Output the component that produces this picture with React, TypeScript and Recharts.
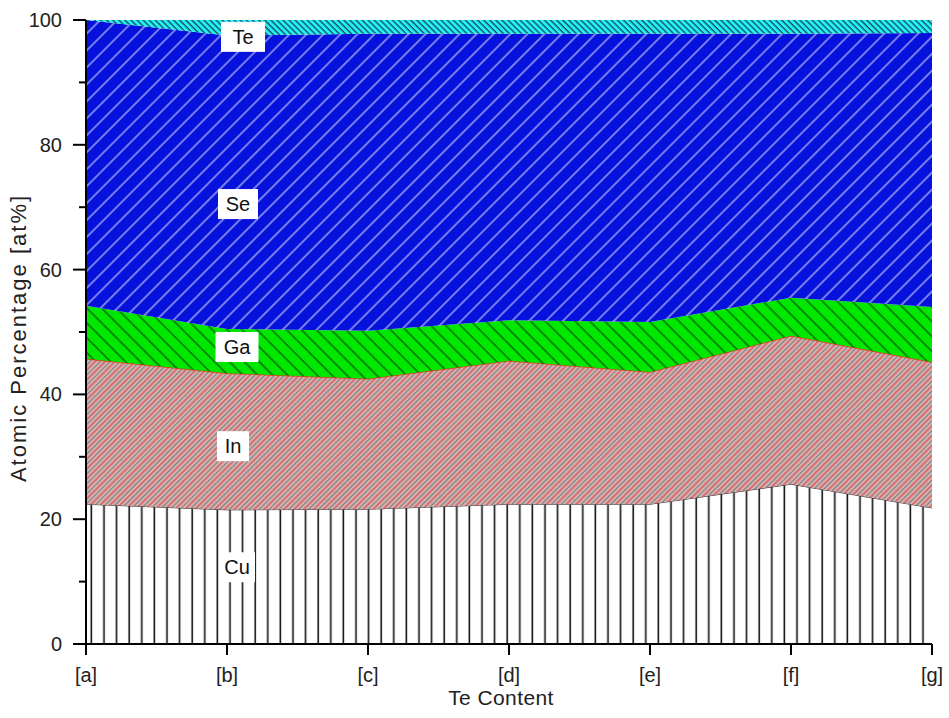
import React from 'react';
import { AreaChart, Area, XAxis, YAxis, ReferenceDot, Label } from 'recharts';

const categories = ['[a]', '[b]', '[c]', '[d]', '[e]', '[f]', '[g]'];
const cuValues = [22.4, 21.5, 21.6, 22.4, 22.4, 25.6, 21.8];
const inValues = [23.3, 21.9, 20.9, 23.0, 21.2, 23.8, 23.4];
const gaValues = [8.5, 7.1, 7.7, 6.5, 8.0, 6.1, 8.8];
const seValues = [45.8, 47.0, 47.6, 45.9, 46.2, 42.3, 43.9];
const teValues = [0.0, 2.5, 2.2, 2.2, 2.2, 2.2, 2.1];

const seriesNames = ['Cu', 'In', 'Ga', 'Se', 'Te'];
const labelCategory = '[b]';
const labelValues = [12.3, 31.7, 47.6, 70.5, 97.3];
const yTicks = [0, 10, 20, 30, 40, 50, 60, 70, 80, 90, 100];
const yMajorTicks = [0, 20, 40, 60, 80, 100];

const xTitle = 'Te Content';
const yTitle = 'Atomic Percentage [at%]';

const data = categories.map((c, i) => ({
  cat: c,
  Cu: cuValues[i],
  In: inValues[i],
  Ga: gaValues[i],
  Se: seValues[i],
  Te: teValues[i],
}));

const FONT = '"Liberation Sans", Arial, sans-serif';
const labelDx = [10, 6, 10, 11, 16];
const labelBoxW = [36, 32, 43, 40, 44];

const YTick = (props: any) => {
  const { x, y, payload } = props;
  const major = yMajorTicks.includes(payload.value);
  return (
    <g>
      <line x1={x - (major ? 13 : 7)} x2={x} y1={y} y2={y} stroke="#000" strokeWidth={2} />
      {major && (
        <text x={x - 24} y={y + 7} textAnchor="end" fontSize={20} fontFamily={FONT} fill="#222">
          {payload.value}
        </text>
      )}
    </g>
  );
};

const XTick = (props: any) => {
  const { x, y, payload } = props;
  return (
    <g>
      <line x1={x} x2={x} y1={y} y2={y + 11} stroke="#000" strokeWidth={2} />
      <text x={x} y={y + 38} textAnchor="middle" fontSize={20} fontFamily={FONT} fill="#222">
        {payload.value}
      </text>
    </g>
  );
};

const Tag = ({ cx, cy, text, dx, w }: any) => (
  <g>
    <rect x={cx + dx - w / 2} y={cy - 15} width={w} height={30} fill="#fff" />
    <text x={cx + dx} y={cy + 7} textAnchor="middle" fontSize={20} fontFamily={FONT} fill="#111">
      {text}
    </text>
  </g>
);

export default function App() {
  return (
    <div style={{ position: 'absolute', left: 0, top: 0, background: '#fff' }}>
      <AreaChart width={949} height={718} data={data} margin={{ top: 20, right: 17, left: 0, bottom: 0 }}>
        <defs>
          <pattern id="pCu" patternUnits="userSpaceOnUse" width="12.6" height="10">
            <rect width="12.6" height="10" fill="#ffffff" />
            <line x1="3.2" y1="0" x2="3.2" y2="10" stroke="#111" strokeWidth="1.6" />
          </pattern>
          <pattern id="pIn" patternUnits="userSpaceOnUse" width="7" height="10" patternTransform="rotate(45)">
            <rect width="7" height="10" fill="#d2b6b6" />
            <line x1="1" y1="0" x2="1" y2="10" stroke="#e03c3c" strokeWidth="1.2" />
            <line x1="4.5" y1="0" x2="4.5" y2="10" stroke="#857a7a" strokeWidth="1.2" />
          </pattern>
          <pattern id="pGa" patternUnits="userSpaceOnUse" width="10.5" height="10" patternTransform="rotate(-45)">
            <rect width="10.5" height="10" fill="#00e800" />
            <line x1="1" y1="0" x2="1" y2="10" stroke="#063006" strokeWidth="1" />
          </pattern>
          <pattern id="pSe" patternUnits="userSpaceOnUse" width="12" height="10" patternTransform="rotate(45)">
            <rect width="12" height="10" fill="#0612dc" />
            <line x1="1" y1="0" x2="1" y2="10" stroke="#d4d4ff" strokeWidth="1.1" />
          </pattern>
          <pattern id="pTe" patternUnits="userSpaceOnUse" width="4.3" height="10" patternTransform="rotate(-45)">
            <rect width="4.3" height="10" fill="#22f2f2" />
            <line x1="1" y1="0" x2="1" y2="10" stroke="#113" strokeWidth="1" />
          </pattern>
        </defs>
        <XAxis
          dataKey="cat"
          height={74}
          tickSize={0}
          tickMargin={0}
          tickLine={false}
          axisLine={{ stroke: '#000', strokeWidth: 2 }}
          tick={<XTick />}
          interval={0}
        >
          <Label
            content={(p: any) => {
              const vb = p.viewBox;
              return (
                <text x={vb.x + vb.width / 2 - 8} y={vb.y + 61} textAnchor="middle" fontSize={21} fontFamily={FONT} fill="#222" letterSpacing={0.4}>
                  {xTitle}
                </text>
              );
            }}
          />
        </XAxis>
        <XAxis xAxisId="top" dataKey="cat" orientation="top" height={0} tick={false} tickLine={false} axisLine={{ stroke: '#000', strokeWidth: 2 }} />
        <YAxis
          width={86}
          domain={[0, 100]}
          ticks={yTicks}
          tickSize={0}
          tickMargin={0}
          tickLine={false}
          axisLine={{ stroke: '#000', strokeWidth: 2 }}
          tick={<YTick />}
          interval={0}
        >
          <Label
            content={(p: any) => {
              const vb = p.viewBox;
              const cx = vb.x + 18;
              const cy = vb.y + vb.height / 2 + 6;
              return (
                <text x={cx} y={cy} textAnchor="middle" fontSize={22} fontFamily={FONT} fill="#222" letterSpacing={2} transform={`rotate(-90 ${cx} ${cy})`} dominantBaseline="central">
                  {yTitle}
                </text>
              );
            }}
          />
        </YAxis>
        <YAxis yAxisId="right" orientation="right" width={0} domain={[0, 100]} tick={false} tickLine={false} axisLine={{ stroke: '#000', strokeWidth: 2 }} />
        <Area type="linear" dataKey="Cu" stackId="1" stroke="#333" strokeWidth={1} fill="url(#pCu)" fillOpacity={1} isAnimationActive={false} />
        <Area type="linear" dataKey="In" stackId="1" stroke="#e03a1a" strokeWidth={1.5} fill="url(#pIn)" fillOpacity={1} isAnimationActive={false} />
        <Area type="linear" dataKey="Ga" stackId="1" stroke="none" fill="url(#pGa)" fillOpacity={1} isAnimationActive={false} />
        <Area type="linear" dataKey="Se" stackId="1" stroke="none" fill="url(#pSe)" fillOpacity={1} isAnimationActive={false} />
        <Area type="linear" dataKey="Te" stackId="1" stroke="none" fill="url(#pTe)" fillOpacity={1} isAnimationActive={false} />
        {seriesNames.map((n, i) => (
          <ReferenceDot
            key={n}
            x={labelCategory}
            y={labelValues[i]}
            r={0}
            shape={(p: any) => <Tag cx={p.cx} cy={p.cy} text={n} dx={labelDx[i]} w={labelBoxW[i]} />}
          />
        ))}
      </AreaChart>
    </div>
  );
}
